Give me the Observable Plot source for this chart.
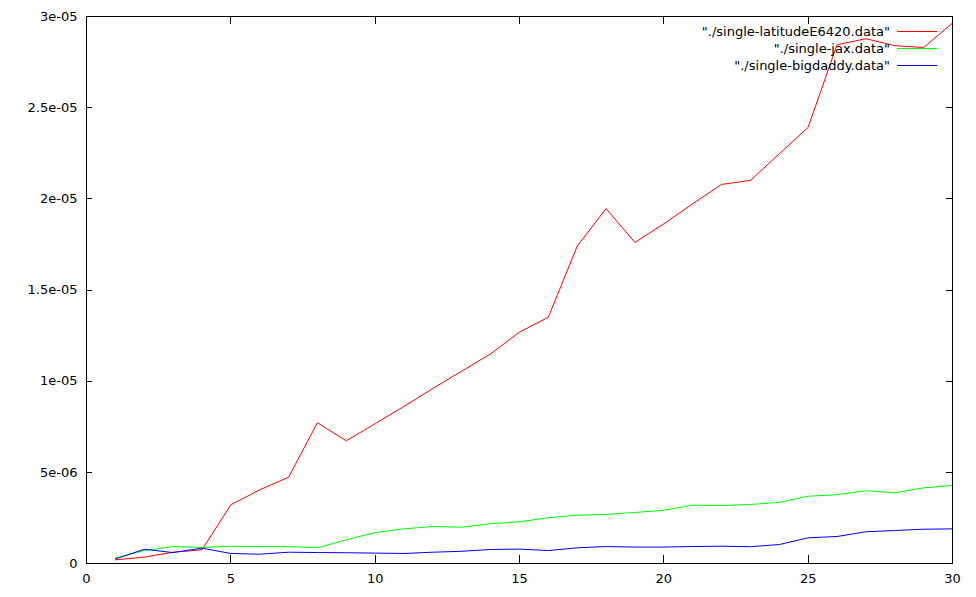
<!DOCTYPE html>
<html><head><meta charset="utf-8">
<script src="https://cdn.jsdelivr.net/npm/d3@7"></script>
<script src="https://cdn.jsdelivr.net/npm/@observablehq/plot@0.6"></script>
<style>
body{margin:0;background:#fff;}
#wrap{position:relative;width:976px;height:597px;font-family:"DejaVu Sans";}
#legend{position:absolute;top:23px;right:39px;font-size:13px;color:#000;}
.row{display:flex;align-items:center;justify-content:flex-end;height:17px;white-space:nowrap;}
.sw{width:40px;height:0;border-top:1px solid;margin-left:7px;}
</style></head>
<body><div id="wrap"><div id="legend"></div></div>
<script>
const xs = [1,2,3,4,5,6,7,8,9,10,11,12,13,14,15,16,17,18,19,20,21,22,23,24,25,26,27,28,29,30];
const latitude = [0.2,0.35,0.62,0.75,3.22,4.04,4.73,7.72,6.73,7.67,8.62,9.6,10.55,11.5,12.69,13.51,17.41,19.46,17.61,18.63,19.73,20.79,21.01,22.47,23.92,28.45,28.78,28.4,28.3,29.64];
const jax = [0.3,0.71,0.93,0.88,0.95,0.92,0.93,0.86,1.3,1.7,1.9,2.03,1.99,2.18,2.29,2.51,2.65,2.69,2.8,2.92,3.2,3.18,3.24,3.35,3.69,3.77,3.99,3.88,4.15,4.28];
const bigdaddy = [0.25,0.78,0.6,0.84,0.55,0.51,0.62,0.6,0.59,0.57,0.55,0.62,0.67,0.77,0.79,0.71,0.86,0.93,0.9,0.9,0.93,0.95,0.92,1.04,1.41,1.48,1.74,1.81,1.88,1.9];
const valueScale = 1e-6;
const seriesNames = ['"./single-latitudeE6420.data"', '"./single-jax.data"', '"./single-bigdaddy.data"'];
const seriesColors = ["#ff0000", "#00ff00", "#0000ff"];
const xTicks = [0,5,10,15,20,25,30];
const xTickLabels = ["0","5","10","15","20","25","30"];
const yTicks = [0,5e-6,1e-5,1.5e-5,2e-5,2.5e-5,3e-5];
const yTickLabels = ["0","5e-06","1e-05","1.5e-05","2e-05","2.5e-05","3e-05"];

const seriesValues = [latitude, jax, bigdaddy];
const rows = seriesValues.map((vals, s) => xs.map((x, i) => ({x, y: vals[i] * valueScale, s})));

const W = 976, H = 597, mL = 86, mR = 24, mT = 16, mB = 34;
const innerW = W - mL - mR, innerH = H - mT - mB;
const xTickLen = 8, yTickLen = 6;

const chart = Plot.plot({
  width: W, height: H,
  marginLeft: mL, marginRight: mR, marginTop: mT, marginBottom: mB,
  style: {fontFamily: "DejaVu Sans", fontSize: "13px", background: "white", color: "black"},
  x: {domain: [0, 30]},
  y: {domain: [0, 3e-5]},
  marks: [
    Plot.axisX({ticks: xTicks, tickFormat: d => xTickLabels[xTicks.indexOf(d)], tickSize: 0, tickPadding: 10, label: null, fontSize: 13}),
    Plot.axisY({ticks: yTicks, tickFormat: d => yTickLabels[yTicks.indexOf(d)], tickSize: 0, tickPadding: 9, label: null, fontSize: 13}),
    Plot.tickX(xTicks, {x: d => d, insetTop: innerH - xTickLen, stroke: "black", shapeRendering: "crispEdges"}),
    Plot.tickX(xTicks, {x: d => d, insetBottom: innerH - xTickLen, stroke: "black", shapeRendering: "crispEdges"}),
    Plot.tickY(yTicks, {y: d => d, insetRight: innerW - yTickLen, stroke: "black", shapeRendering: "crispEdges"}),
    Plot.tickY(yTicks, {y: d => d, insetLeft: innerW - yTickLen, stroke: "black", shapeRendering: "crispEdges"}),
    ...rows.map((r, s) => Plot.line(r, {x: "x", y: "y", stroke: seriesColors[s], strokeWidth: 1})),
    Plot.frame({stroke: "black", shapeRendering: "crispEdges"})
  ]
});
const wrap = document.getElementById("wrap");
wrap.insertBefore(chart, wrap.firstChild);
const legend = document.getElementById("legend");
seriesNames.forEach((n, i) => {
  const row = document.createElement("div");
  row.className = "row";
  const t = document.createElement("span");
  t.textContent = n;
  const sw = document.createElement("span");
  sw.className = "sw";
  sw.style.borderTopColor = seriesColors[i];
  row.appendChild(t); row.appendChild(sw);
  legend.appendChild(row);
});
</script>
</body></html>
